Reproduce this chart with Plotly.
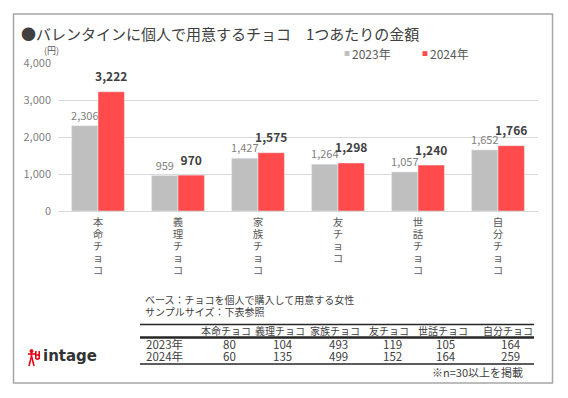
import plotly.graph_objects as go

# ---- data ----
categories = ["本命チョコ", "義理チョコ", "家族チョコ", "友チョコ", "世話チョコ", "自分チョコ"]
values_2023 = [2306, 959, 1427, 1264, 1057, 1652]
values_2024 = [3222, 970, 1575, 1298, 1240, 1766]
series_names = ["2023年", "2024年"]
y_ticks = [0, 1000, 2000, 3000, 4000]
n_2023 = [80, 104, 493, 119, 105, 164]
n_2024 = [60, 135, 499, 152, 164, 259]

title_text = "●バレンタインに個人で用意するチョコ\u30001つあたりの金額"
unit_text = "(円)"
note_lines = ["ベース：チョコを個人で購入して用意する女性", "サンプルサイズ：下表参照"]
footnote = "※n=30以上を掲載"

# ---- layout constants ----
W, H = 568, 398
ML, MR, MT, MB = 58, 30, 63, 187
PW = W - ML - MR
PH = H - MT - MB
FONT = "Noto Sans CJK JP"
GRAY = "#BFBFBF"
RED = "#FF4B4B"
DARK = "#404040"


def px(x):
    return (x - ML) / PW


def py(y):
    return (H - MB - y) / PH


def vertical(label):
    return "<br>".join('<span style="font-size:10.5px">%s</span>' % ch for ch in label)


def stacked(items, size):
    return "<br>".join('<span style="font-size:%spx">%s</span>' % (size, it) for it in items)


fig = go.Figure()
fig.add_trace(go.Bar(
    x=categories, y=values_2023, name=series_names[0], marker_color=GRAY,
    text=values_2023, texttemplate="%{y:,}", textposition="outside", constraintext="none",
    textfont=dict(family=FONT, size=11, color="#7F7F7F"), cliponaxis=False,
))
fig.add_trace(go.Bar(
    x=categories, y=values_2024, name=series_names[1], marker_color=RED,
    text=values_2024,
    texttemplate="<span style='font-size:12px'>%{y:,}</span><br>\u00a0",
    textposition="outside", constraintext="none",
    textfont=dict(family=FONT, size=5, color=DARK, weight="bold"), cliponaxis=False,
))

annotations = []
shapes = []

# outer frame
shapes.append(dict(type="rect", xref="paper", yref="paper",
                   x0=px(13.5), x1=px(552.5), y0=py(14), y1=py(383),
                   line=dict(color="#A6A6A6", width=1.5), layer="below"))

# title
annotations.append(dict(text=title_text, x=px(19), y=py(33), xref="paper", yref="paper",
                        xanchor="left", yanchor="middle", showarrow=False,
                        font=dict(family=FONT, size=15, color=DARK)))
# unit
annotations.append(dict(text=unit_text, x=px(51), y=py(51), xref="paper", yref="paper",
                        xanchor="center", yanchor="middle", showarrow=False,
                        font=dict(family=FONT, size=9, color="#595959")))

# legend
leg_x = [347, 425]
for name, col, lx in zip(series_names, [GRAY, RED], leg_x):
    annotations.append(dict(text="■", x=px(lx), y=py(53), xref="paper", yref="paper",
                            xanchor="center", yanchor="middle", showarrow=False,
                            font=dict(family=FONT, size=6, color=col)))
    annotations.append(dict(text=name, x=px(lx + 3), y=py(53), xref="paper", yref="paper",
                            xanchor="left", yanchor="middle", showarrow=False,
                            font=dict(family=FONT, size=12, color="#595959")))

# notes
for i, line in enumerate(note_lines):
    annotations.append(dict(text=line, x=px(143), y=py(299 + 12 * i), xref="paper", yref="paper",
                            xanchor="left", yanchor="middle", showarrow=False,
                            font=dict(family=FONT, size=10, color=DARK)))

# table
col_x = [226, 280, 335, 389, 443, 508]
for c, cx in zip(categories, col_x):
    annotations.append(dict(text=c, x=px(cx), y=py(330.5), xref="paper", yref="paper",
                            xanchor="center", yanchor="middle", showarrow=False,
                            font=dict(family=FONT, size=10, color=DARK)))
annotations.append(dict(text=stacked(series_names, 11.5), x=px(144), y=py(350), xref="paper",
                        yref="paper", xanchor="left", yanchor="middle", showarrow=False,
                        font=dict(family=FONT, size=9.5, color=DARK)))
for v1, v2, cx in zip(n_2023, n_2024, col_x):
    annotations.append(dict(text=stacked([v1, v2], 11.5), x=px(cx + 3), y=py(350), xref="paper",
                            yref="paper", xanchor="center", yanchor="middle", showarrow=False,
                            font=dict(family=FONT, size=9.5, color=DARK)))
for ly, lw in [(324.5, 1.5), (337.5, 2.5), (364, 1.5)]:
    shapes.append(dict(type="line", xref="paper", yref="paper",
                       x0=px(140), x1=px(534), y0=py(ly), y1=py(ly),
                       line=dict(color="#262626", width=lw)))
annotations.append(dict(text=footnote, x=px(525), y=py(372), xref="paper", yref="paper",
                        xanchor="right", yanchor="middle", showarrow=False,
                        font=dict(family=FONT, size=11, color=DARK)))

# logo
LC = "#E60012"
logo_lines = [
    (28, 354, 35, 354), (31.5, 352, 31.5, 356), (31.5, 356, 29, 366), (31.5, 356, 34, 366),
    (35.8, 351, 35.8, 359), (39.2, 351, 39.2, 359), (35.8, 359, 39.2, 359), (35.8, 355, 39.2, 355),
]
for x0, y0, x1, y1 in logo_lines:
    shapes.append(dict(type="line", xref="paper", yref="paper",
                       x0=px(x0), x1=px(x1), y0=py(y0), y1=py(y1),
                       line=dict(color=LC, width=1.6)))
shapes.append(dict(type="circle", xref="paper", yref="paper",
                   x0=px(30), x1=px(33), y0=py(352.5), y1=py(349.5),
                   line=dict(color=LC, width=1), fillcolor=LC))
annotations.append(dict(text="intage", x=px(41), y=py(356), xref="paper", yref="paper",
                        xanchor="left", yanchor="middle", showarrow=False,
                        font=dict(family="DejaVu Sans", size=15, color="#333333", weight="bold")))

fig.update_layout(
    width=W, height=H,
    margin=dict(l=ML, r=MR, t=MT, b=MB),
    paper_bgcolor="white", plot_bgcolor="white",
    barmode="group", bargap=0.34, bargroupgap=0,
    showlegend=False,
    font=dict(family=FONT),
    annotations=annotations, shapes=shapes,
    xaxis=dict(
        tickmode="array", tickvals=categories,
        ticktext=[vertical(c) for c in categories],
        tickfont=dict(family=FONT, size=9.2, color="#595959"),
        ticks="", showline=False, showgrid=False, ticklabelstandoff=5,
    ),
    yaxis=dict(
        range=[0, 4000], tickvals=y_ticks, tickformat=",",
        tickfont=dict(family=FONT, size=11, color="#7F7F7F"),
        showgrid=True, gridcolor="#D9D9D9", gridwidth=1,
        zeroline=True, zerolinecolor="#D9D9D9", zerolinewidth=1,
        ticks="", ticklabelstandoff=6,
    ),
)

fig.write_html("out.html", config={"displayModeBar": False},
               post_script="document.body.style.margin='0';document.body.style.overflow='hidden';")
